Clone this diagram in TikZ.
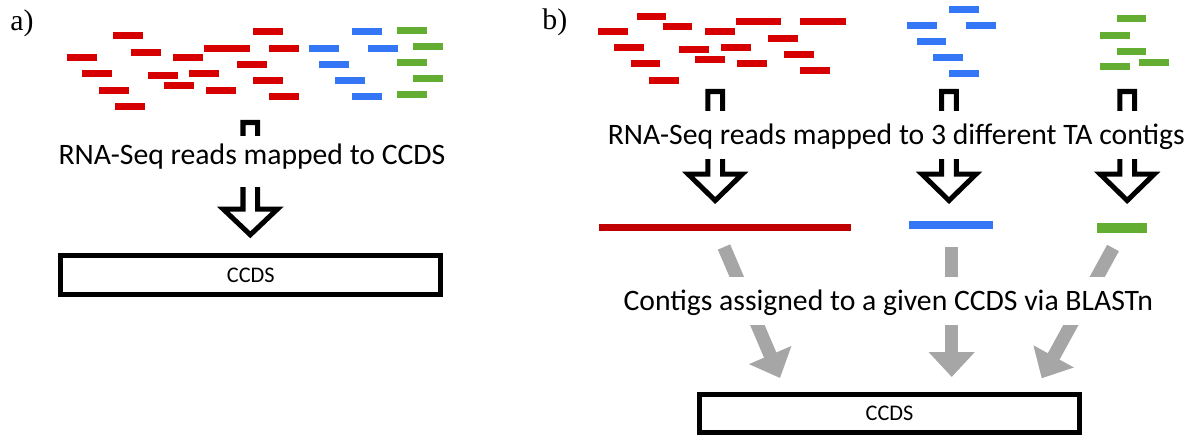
\documentclass[tikz,border=0pt]{standalone}
\usepackage{fontspec}
\setmainfont{Carlito}
\newfontfamily\panelfont{Liberation Serif}
\usetikzlibrary{arrows.meta}
\definecolor{readred}{RGB}{214,0,0}
\definecolor{contigred}{RGB}{192,0,0}
\definecolor{readblue}{RGB}{51,119,246}
\definecolor{readgreen}{RGB}{99,173,50}
\definecolor{assigngray}{RGB}{166,166,166}
\newcommand{\openarrow}[4]{%
  \draw[openarr] (#1-7.3,#2) -- (#1+7.3,#2) -- (#1+7.3,#3) -- (#1+27,#3) -- (#1,#4)
    -- (#1-27,#3) -- (#1-7.3,#3) -- cycle;}

\begin{document}
\begin{tikzpicture}[x=0.02cm,y=-0.02cm,line cap=butt,
    openarr/.style={line width=2.85pt,line join=miter},
    assign/.style={draw=assigngray,line width=7.6pt,-{Triangle[width=25.4pt,length=14.2pt]}},
    maptext/.style={fill=white,inner xsep=1pt,inner ysep=0pt,anchor=base,font=\fontsize{16.9}{20}\selectfont},
    ccdsbox/.style={draw,line width=2.85pt,minimum width=216.2pt,minimum height=21.85pt,inner sep=0pt,font=\fontsize{12.7}{15}\selectfont},
    panel/.style={anchor=base west,inner sep=0pt,font=\panelfont\fontsize{17}{20}\selectfont}]
                \useasboundingbox (0,0) rectangle (1200,446);
                % a) reads
                \foreach \x/\y in {113/32,67/54,131/49,173/54,253/28,269/45,237/61,82/70,148/72,189/70,164/82,99/87,206/87,253/77,115/103,269/93}
                    \fill[readred] (\x,\y) rectangle ++(30,7);
                \fill[readred] (204,45) rectangle ++(46,7);
                \foreach \x/\y in {352/28,309/45,368/45,319/61,335/77,352/93}
                    \fill[readblue] (\x,\y) rectangle ++(30,7);
                \foreach \x/\y in {397/27,413/43,397/59,413/75,397/91}
                    \fill[readgreen] (\x,\y) rectangle ++(30,7);
                % b) reads
                \foreach \x/\y in {636.7/12.7,598.3/28.3,662.7/23.5,705/28.3,768.3/34.7,614/44.3,679/46,721.3/44.3,784/51,695.3/56,630.7/60.5,737/60.5,800.3/67,649.3/77}
                    \fill[readred] (\x,\y) rectangle ++(29.5,7);
                \fill[readred] (735.7,18.5) rectangle ++(45.5,7);
                \fill[readred] (800.3,18.5) rectangle ++(46,7);
                \foreach \x/\y in {949.3/5.7,907.3/21.8,966/21.8,916.7/37.8,933.3/54,949.3/70}
                    \fill[readblue] (\x,\y) rectangle ++(29.5,7);
                \foreach \x/\y in {1116.7/15,1100/31.7,1116.7/47.8,1139.3/58.8,1100/63.5}
                    \fill[readgreen] (\x,\y) rectangle ++(29.5,7);
                % contigs
                \fill[contigred] (599.3,224) rectangle (850.7,230.7);
                \fill[readblue] (909.3,221) rectangle (993.3,229.3);
                \fill[readgreen] (1097.3,223) rectangle (1146.7,232.7);
                % mapping arrows
                \openarrow{250.3}{122.5}{209.2}{234.8}
                \openarrow{715.2}{91.5}{174.2}{200.5}
                \openarrow{949}{91.5}{174.2}{200.5}
                \openarrow{1127.2}{91.5}{174.2}{200.5}
                \coordinate (redtop) at (724,247);
                \coordinate (bluetop) at (951.7,247);
                \coordinate (greentop) at (1113,248);
                \coordinate (redtip) at (780,378);
                \coordinate (bluetip) at (951.7,377);
                \coordinate (greentip) at (1041.7,378.3);
                \draw[assign] (redtop) -- (redtip);
                \draw[assign] (bluetop) -- (bluetip);
                \draw[assign] (greentop) -- (greentip);
                % texts and boxes
                \node[panel] (laba) at (10,30.5) {a)};
                \node[panel] (labb) at (542,30) {b)};
                \node[maptext,text height=15.9pt,text depth=12.9pt] (mapa) at (252,164) {RNA-Seq reads mapped to CCDS};
                \node[maptext,text height=19.5pt,text depth=8.1pt] (mapb) at (896.3,145) {RNA-Seq reads mapped to 3 different TA contigs};
                \node[maptext,text height=19.3pt,text depth=8.1pt] (blastb) at (888.3,310.7) {Contigs assigned to a given CCDS via BLASTn};
                \node[ccdsbox] (ccdsa) at (250.8,275) {CCDS};
                \node[ccdsbox] (ccdsb) at (889.5,413.3) {CCDS};
\end{tikzpicture}
\end{document}
